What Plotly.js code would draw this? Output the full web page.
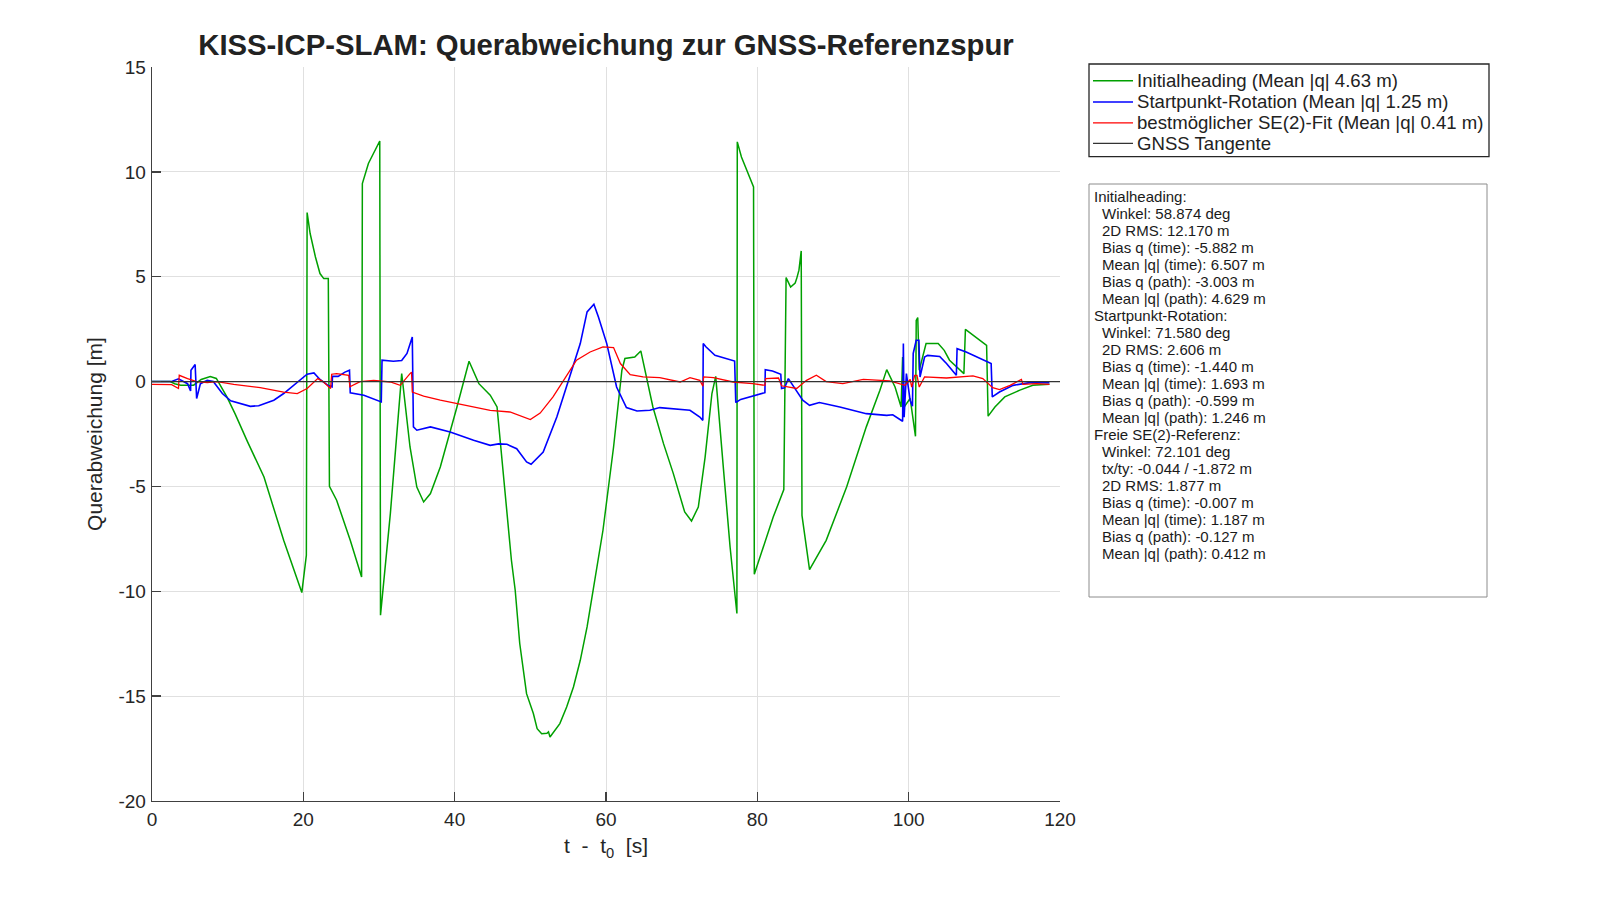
<!DOCTYPE html>
<html>
<head>
<meta charset="utf-8">
<script src="https://cdn.plot.ly/plotly-3.0.1.min.js"></script>
<style>html,body{margin:0;padding:0;background:#fff;}#chart{width:1600px;height:900px;}</style>
</head>
<body>
<div id="chart"></div>
<script>
// ---- data ----
const tGreen = [0,2.4,3.0,3.8,5.5,5.9,6.5,7.7,8.5,9.9,11.0,12.6,14.8,17.4,19.8,20.4,20.5,20.9,21.6,22.2,22.7,23.3,23.45,24.4,26.2,27.7,27.8,28.6,30.1,30.2,31.5,33.0,34.1,35.0,35.9,36.8,38.1,40.3,41.9,43.2,44.7,45.6,46.9,47.5,48.0,48.6,49.5,50.4,50.9,51.5,52.2,52.4,52.6,53.3,53.9,54.8,55.7,56.6,57.5,58.3,59.0,59.6,61.0,62.1,62.5,63.8,64.6,65.8,66.2,67.6,68.9,70.4,71.3,72.2,73.1,74.0,74.5,75.5,76.4,77.3,77.35,77.9,78.6,79.0,79.5,79.6,80.8,82.1,83.5,83.8,84.4,85.0,85.2,85.5,85.8,85.9,86.9,89.1,91.8,94.4,96.2,97.1,98.2,99.0,99.2,99.4,100.2,100.5,100.9,101.0,101.2,101.4,101.7,102.3,103.9,104.7,105.4,107.3,107.5,108.5,110.3,110.5,111.4,112.7,114.7,116.4,118.6];
const qGreen = [0,0,-0.1,-0.17,-0.17,-0.05,0.1,0.24,0.15,-0.73,-1.55,-2.85,-4.55,-7.57,-10.06,-8.28,8.06,7.06,5.94,5.15,4.91,4.91,-4.99,-5.66,-7.57,-9.32,9.44,10.4,11.47,-11.14,-6.3,0.38,-3.12,-5.03,-5.74,-5.34,-4.07,-1.21,0.97,-0.1,-0.65,-1.21,-6.3,-8.52,-9.95,-12.49,-14.88,-15.83,-16.55,-16.79,-16.77,-16.7,-16.95,-16.63,-16.31,-15.52,-14.56,-13.29,-11.7,-9.95,-8.52,-7.09,-3.12,0.54,1.1,1.17,1.46,-0.57,-1.21,-2.96,-4.39,-6.22,-6.65,-5.98,-3.6,-0.57,0.25,-4.07,-7.89,-11.06,11.43,10.71,10.08,9.68,9.28,-9.19,-7.89,-6.46,-5.15,4.96,4.51,4.7,4.91,5.31,6.23,-6.38,-8.97,-7.57,-5.03,-2.16,-0.41,0.57,-0.26,-1.21,1.17,-1.21,-0.8,-1.6,-2.61,2.92,3.05,0.54,1.0,1.81,1.81,1.49,1.02,0.38,2.49,2.21,1.73,-1.65,-1.21,-0.73,-0.41,-0.18,-0.13];

const tBlue = [0,2.6,3.5,4.7,5.1,5.15,5.7,5.9,6.4,7.3,8.1,9.3,10.4,13.0,14.1,16.1,17.4,19.2,20.5,21.4,22.2,23.3,23.8,23.85,24.6,25.5,26.1,26.2,28.0,30.3,30.4,31.9,33.0,33.7,34.4,34.55,35.0,36.8,39.4,42.5,44.7,45.8,46.9,48.2,49.5,50.1,51.7,53.5,55.2,56.6,57.5,58.4,59.0,60.1,61.4,62.7,64.1,65.8,67.1,71.1,72.4,72.8,72.85,73.2,74.4,77.0,77.15,77.8,81.0,81.05,82.0,83.1,83.2,83.6,84.1,84.7,86.0,86.9,88.2,90.9,94.4,97.1,97.9,99.2,99.3,99.4,99.7,100.2,100.5,100.6,101.0,101.35,101.5,102.1,102.5,104.1,105.0,106.3,106.4,107.6,109.4,110.9,111.05,112.0,113.8,116.0,118.6];
const qBlue = [0,0,0.13,-0.1,-0.45,0.54,0.81,-0.81,-0.1,0.06,0,-0.57,-0.92,-1.18,-1.15,-0.89,-0.57,-0.02,0.35,0.41,0.1,-0.19,-0.25,0.25,0.25,0.45,0.54,-0.54,-0.65,-0.97,1.02,0.97,1.0,1.34,2.13,-2.16,-2.32,-2.16,-2.4,-2.8,-3.04,-2.97,-2.99,-3.2,-3.83,-3.94,-3.36,-1.69,0.22,1.81,3.32,3.69,3.08,1.81,-0.26,-1.24,-1.4,-1.37,-1.24,-1.37,-1.69,-1.85,1.81,1.66,1.25,0.98,-1.0,-0.85,-0.53,0.57,0.5,0.35,-0.33,-0.3,0.14,-0.2,-0.89,-1.13,-1.0,-1.21,-1.53,-1.61,-1.58,-1.89,1.81,-1.7,0.38,-0.9,-1.18,1.34,1.97,1.97,0.22,1.17,1.25,1.2,0.86,0.3,1.57,1.41,1.1,0.86,-0.73,-0.5,-0.18,-0.05,-0.05];

const tRed = [0,2.6,3.5,3.6,4.7,5.9,7.3,8.6,10.8,14.3,17.4,19.2,20.5,21.4,21.9,22.6,23.6,23.75,24.4,26.0,26.15,27.5,29.3,31.5,32.8,34.1,34.3,34.4,35.9,38.1,42.5,44.7,47.3,48.9,50.0,51.3,53.0,54.4,56.1,57.9,59.6,61.0,61.9,63.2,64.9,67.1,68.9,69.8,71.1,72.4,72.8,72.9,74.2,76.8,79.4,81.0,81.1,82.8,83.2,85.2,86.5,87.8,89.1,91.3,94.0,97.5,99.5,100.2,100.4,100.8,101.1,101.4,102.1,105.0,108.5,109.8,111.1,112.0,113.4,114.5,114.9,115.1,116.9,118.6];
const qRed = [-0.13,-0.15,-0.33,0.3,0.14,0,-0.05,0,-0.13,-0.29,-0.5,-0.57,-0.33,-0.02,0.14,0,-0.33,0.35,0.38,0.3,-0.25,0,0.06,-0.02,-0.18,0.38,0.45,-0.5,-0.69,-0.89,-1.21,-1.37,-1.45,-1.65,-1.81,-1.5,-0.73,0.06,1.02,1.41,1.65,1.62,0.86,0.33,0.22,0.19,0.06,-0.02,0.19,0.06,-0.22,0.22,0.19,-0.02,-0.1,-0.18,0.14,0.17,-0.2,-0.33,0.06,0.3,0.0,-0.1,0.1,0.03,-0.18,0.1,-0.26,0.3,0.3,-0.26,0.22,0.17,0.27,0.14,-0.29,-0.38,-0.18,0.03,0.1,-0.13,-0.1,-0.13];

const tTangent = [0, 120];
const qTangent = [0, 0];

const seriesNames = [
  'Initialheading (Mean |q| 4.63 m)',
  'Startpunkt-Rotation (Mean |q| 1.25 m)',
  'bestmöglicher SE(2)-Fit (Mean |q| 0.41 m)',
  'GNSS Tangente'
];
const seriesColors = ['#00a000', '#0000ff', '#ff0000', '#333333'];

const statsLines = [
  'Initialheading:',
  '  Winkel: 58.874 deg',
  '  2D RMS: 12.170 m',
  '  Bias q (time): -5.882 m',
  '  Mean |q| (time): 6.507 m',
  '  Bias q (path): -3.003 m',
  '  Mean |q| (path): 4.629 m',
  'Startpunkt-Rotation:',
  '  Winkel: 71.580 deg',
  '  2D RMS: 2.606 m',
  '  Bias q (time): -1.440 m',
  '  Mean |q| (time): 1.693 m',
  '  Bias q (path): -0.599 m',
  '  Mean |q| (path): 1.246 m',
  'Freie SE(2)-Referenz:',
  '  Winkel: 72.101 deg',
  '  tx/ty: -0.044 / -1.872 m',
  '  2D RMS: 1.877 m',
  '  Bias q (time): -0.007 m',
  '  Mean |q| (time): 1.187 m',
  '  Bias q (path): -0.127 m',
  '  Mean |q| (path): 0.412 m'
];

const xTicks = [0, 20, 40, 60, 80, 100, 120];
const yTicks = [-20, -15, -10, -5, 0, 5, 10, 15];

// ---- layout helpers (pixel -> paper) ----
const PL = 152, PR = 1060, PT = 67, PB = 801;
const px = x => (x - PL) / (PR - PL);
const py = y => (PB - y) / (PB - PT);
const FONT = 'Liberation Sans, Arial, Helvetica, sans-serif';

const widths = [1.5, 1.6, 1.3, 1.3];
const xs = [tGreen, tBlue, tRed, tTangent];
const ys = [qGreen, qBlue, qRed, qTangent];
const traces = xs.map((x, i) => ({
  x: x, y: ys[i], name: seriesNames[i], mode: 'lines', showlegend: false,
  line: {color: seriesColors[i], width: widths[i]}
}));

// legend drawn as shapes + annotations (MATLAB-style box)
const legendRowY = [80.7, 102.0, 122.8, 143.3];
const shapes = [
  {type: 'rect', xref: 'paper', yref: 'paper', x0: px(1089), x1: px(1489), y0: py(156.7), y1: py(64),
   line: {color: '#262626', width: 1.3}, fillcolor: '#ffffff', layer: 'above'},
  {type: 'rect', xref: 'paper', yref: 'paper', x0: px(1089), x1: px(1487), y0: py(597), y1: py(184),
   line: {color: '#8c8c8c', width: 1}, fillcolor: 'rgba(0,0,0,0)'}
];
const annotations = [];
seriesNames.forEach((n, i) => {
  shapes.push({type: 'line', xref: 'paper', yref: 'paper', x0: px(1093), x1: px(1133),
    y0: py(legendRowY[i]), y1: py(legendRowY[i]), line: {color: seriesColors[i], width: widths[i]}, layer: 'above'});
  annotations.push({xref: 'paper', yref: 'paper', x: px(1135), y: py(legendRowY[i]),
    xanchor: 'left', yanchor: 'middle', text: n, showarrow: false,
    font: {family: FONT, size: 18.6, color: '#222222'}});
});

statsLines.forEach((s, i) => {
  const indent = s.startsWith('  ');
  annotations.push({
    xref: 'paper', yref: 'paper',
    x: px(indent ? 1100 : 1092), y: py(196.7 + i * 17.01),
    xanchor: 'left', yanchor: 'middle',
    text: s.trim(), showarrow: false,
    font: {family: FONT, size: 15, color: '#1a1a1a'}
  });
});

const layout = {
  width: 1600, height: 900,
  paper_bgcolor: '#ffffff', plot_bgcolor: '#ffffff',
  margin: {l: PL, r: 1600 - PR, t: PT, b: 900 - PB, pad: 0},
  showlegend: false,
  title: {
    text: 'KISS-ICP-SLAM: Querabweichung zur GNSS-Referenzspur',
    font: {family: FONT, size: 29.3, color: '#222222', weight: 'bold'},
    x: 0.5, xref: 'paper', xanchor: 'center',
    y: 1 - 45 / 900, yref: 'container', yanchor: 'middle'
  },
  xaxis: {
    range: [0, 120], tickvals: xTicks, ticktext: xTicks.map(String),
    showgrid: true, gridcolor: '#e0e0e0', gridwidth: 1,
    zeroline: false, showline: true, linecolor: '#404040', linewidth: 1.3,
    ticks: 'inside', ticklen: 9, tickwidth: 1.3, tickcolor: '#404040',
    ticklabelstandoff: 1,
    tickfont: {family: FONT, size: 19, color: '#262626'},
    title: {text: 't\u00a0 -\u00a0 t<sub>0</sub>\u00a0 [s]', font: {family: FONT, size: 21, color: '#262626'}, standoff: 9},
    automargin: false
  },
  yaxis: {
    range: [-20, 15], tickvals: yTicks, ticktext: yTicks.map(String),
    showgrid: true, gridcolor: '#e0e0e0', gridwidth: 1,
    zeroline: false, showline: true, linecolor: '#404040', linewidth: 1.3,
    ticks: 'inside', ticklen: 9, tickwidth: 1.3, tickcolor: '#404040',
    ticklabelstandoff: 1,
    tickfont: {family: FONT, size: 19, color: '#262626'},
    title: {text: 'Querabweichung [m]', font: {family: FONT, size: 21, color: '#262626'}, standoff: 10},
    automargin: false
  },
  shapes: shapes,
  annotations: annotations
};

Plotly.newPlot('chart', traces, layout, {displayModeBar: false, staticPlot: true});
</script>
</body>
</html>
